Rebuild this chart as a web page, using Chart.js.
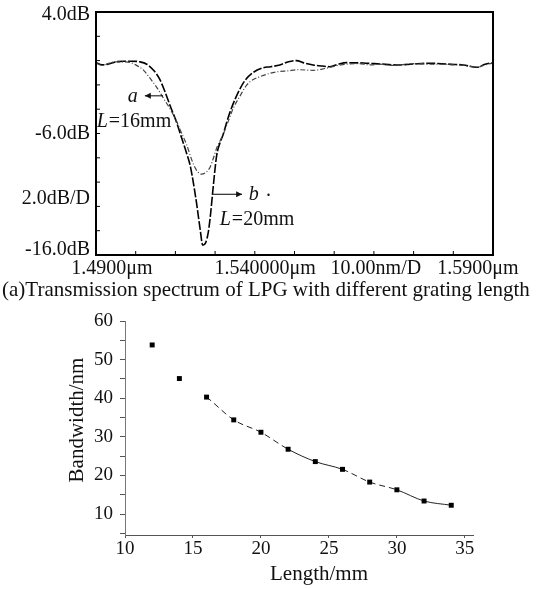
<!DOCTYPE html>
<html>
<head>
<meta charset="utf-8">
<script src="https://cdn.jsdelivr.net/npm/chart.js@4.4.1/dist/chart.umd.min.js"></script>
<style>
  body { margin: 0; background: #fff; width: 550px; height: 589px; position: relative; overflow: hidden; }
  #spectrumBox { position: absolute; left: 0; top: 0; width: 550px; height: 280px; }
  #bandBox { position: absolute; left: 0; top: 290px; width: 550px; height: 299px; }
  #caption { position: absolute; left: 2px; top: 277px; font: 21px 'Liberation Serif', 'Times New Roman', serif; color: #111; white-space: nowrap; }
</style>
</head>
<body>
<div id="spectrumBox"><canvas id="spectrum"></canvas></div>
<div id="caption">(a)Transmission spectrum of LPG with different grating length</div>
<div id="bandBox"><canvas id="band"></canvas></div>
<script>
const SERIF = "'Liberation Serif', 'Times New Roman', serif";

// (a) transmission spectra, wavelength in nm, loss in dB
const waveA = [1490, 1491.5, 1493, 1495, 1497, 1498.6, 1500, 1502, 1503.6, 1505.3, 1507, 1508.7, 1510.3, 1511.6, 1512.8, 1514.5, 1515.5, 1516.6, 1517.7, 1518.7, 1519.6, 1520.4, 1522, 1523.3, 1524.6, 1526.3, 1528, 1529.4, 1531.5, 1533.8, 1536, 1538.2, 1541, 1544.7, 1547, 1549, 1551, 1553, 1556, 1559, 1562, 1565, 1568, 1571, 1574, 1577, 1580, 1583, 1586, 1588, 1590];
const lossA = [-0.2, -0.4, -0.25, -0.1, -0.1, -0.15, -0.35, -0.8, -1.45, -2.2, -3.1, -4.0, -5.0, -6.0, -6.9, -8.5, -9.1, -9.35, -9.2, -8.8, -8.0, -7.2, -6.1, -5.0, -3.9, -2.9, -2.0, -1.6, -1.3, -1.05, -0.9, -0.85, -0.75, -0.8, -0.7, -0.55, -0.4, -0.3, -0.25, -0.35, -0.3, -0.4, -0.3, -0.25, -0.3, -0.3, -0.35, -0.4, -0.55, -0.35, -0.2];

const waveB = [1490, 1491.5, 1493, 1495, 1497, 1499, 1501, 1502.8, 1504.5, 1506, 1507.3, 1508.6, 1510.2, 1511.6, 1512.7, 1513.7, 1514.6, 1515.4, 1516.2, 1516.9, 1517.6, 1518.3, 1518.9, 1519.4, 1520.4, 1521.2, 1522, 1523, 1523.8, 1525, 1526.3, 1527.5, 1529.5, 1532, 1534, 1536.3, 1538.5, 1540.5, 1542.5, 1544.7, 1547, 1548.9, 1551, 1553.1, 1557.3, 1561.5, 1565.7, 1569.9, 1574.1, 1578.3, 1582.5, 1585.9, 1588, 1590];
const lossB = [-0.15, -0.35, -0.3, -0.1, -0.05, -0.05, -0.1, -0.3, -0.8, -1.5, -2.5, -3.65, -5.0, -6.4, -7.5, -8.6, -10.2, -11.9, -13.8, -15.2, -15.0, -14.1, -12.5, -10.8, -7.8, -6.8, -6.1, -5.0, -4.2, -3.2, -2.3, -1.65, -1.0, -0.6, -0.5, -0.36, -0.1, 0.0, -0.2, -0.36, -0.45, -0.5, -0.3, -0.17, -0.2, -0.28, -0.36, -0.28, -0.22, -0.28, -0.36, -0.55, -0.3, -0.17];

// instrument style labels round the frame
const levelLabels = ['4.0dB', '-6.0dB', '2.0dB/D', '-16.0dB'];
const levelAt = [3.75, -6, -11.4, -15.6];
const spanLabels = ['1.4900\u03bcm', '1.540000\u03bcm', '10.00nm/D', '1.5900\u03bcm'];
const spanAt = [1494, 1532.6, 1560.5, 1586.2];

// (b) 3dB bandwidth vs grating length
const lengthMm = [12, 14, 16, 18, 20, 22, 24, 26, 28, 30, 32, 34];
const bandwidthNm = [53.8, 45.1, 40.3, 34.4, 31.2, 26.8, 23.6, 21.6, 18.3, 16.3, 13.4, 12.3];

function pairs(xs, ys) {
  return xs.map((v, i) => ({ x: v, y: ys[i] }));
}

function line(ctx, x1, y1, x2, y2) {
  ctx.beginPath(); ctx.moveTo(x1, y1); ctx.lineTo(x2, y2); ctx.stroke();
}

function arrow(ctx, x1, y, x2) {
  // shaft from x1 to x2, head at x2
  line(ctx, x1, y, x2, y);
  const d = x2 > x1 ? -1 : 1;
  ctx.beginPath();
  ctx.moveTo(x2, y);
  ctx.lineTo(x2 + d * 6, y - 3);
  ctx.lineTo(x2 + d * 6, y + 3);
  ctx.closePath();
  ctx.fill();
}

const spectrumDecor = {
  id: 'spectrumDecor',
  afterDraw(chart) {
    const { ctx, chartArea: a, scales: { x, y } } = chart;
    ctx.save();
    ctx.strokeStyle = '#000';
    ctx.fillStyle = '#111';
    ctx.lineWidth = 2;
    ctx.strokeRect(a.left, a.top, a.right - a.left, a.bottom - a.top);

    // little inward ticks on left and bottom edges
    ctx.lineWidth = 1;
    for (let v = -14; v <= 2; v += 2) {
      const py = y.getPixelForValue(v);
      line(ctx, a.left, py, a.left + 4, py);
    }
    for (let v = 1500; v <= 1580; v += 10) {
      const px = x.getPixelForValue(v);
      line(ctx, px, a.bottom, px, a.bottom - 4);
    }

    ctx.font = '20px ' + SERIF;
    ctx.textBaseline = 'middle';
    ctx.textAlign = 'right';
    levelLabels.forEach((t, i) => ctx.fillText(t, a.left - 6, y.getPixelForValue(levelAt[i])));
    ctx.textAlign = 'center';
    spanLabels.forEach((t, i) => ctx.fillText(t, x.getPixelForValue(spanAt[i]), a.bottom + 14));

    // curve notes
    ctx.textAlign = 'left';
    ctx.font = 'italic 20px ' + SERIF;
    ctx.fillText('a', x.getPixelForValue(1498), y.getPixelForValue(-2.95));
    ctx.fillText('L', x.getPixelForValue(1490.2), y.getPixelForValue(-5.05));
    ctx.fillText('b', x.getPixelForValue(1528.5), y.getPixelForValue(-11.0));
    ctx.fillText('L', x.getPixelForValue(1521.2), y.getPixelForValue(-13.1));
    ctx.font = '20px ' + SERIF;
    ctx.fillText('=16mm', x.getPixelForValue(1490.2) + 12, y.getPixelForValue(-5.05));
    ctx.fillText('=20mm', x.getPixelForValue(1521.2) + 12, y.getPixelForValue(-13.1));
    ctx.fillText('.', x.getPixelForValue(1532.8), y.getPixelForValue(-10.7));
    arrow(ctx, x.getPixelForValue(1506.9), y.getPixelForValue(-2.9), x.getPixelForValue(1502.3));
    arrow(ctx, x.getPixelForValue(1519.5), y.getPixelForValue(-11.0), x.getPixelForValue(1526.8));
    ctx.restore();
  }
};

new Chart(document.getElementById('spectrum'), {
  type: 'line',
  data: {
    datasets: [
      {
        label: 'a L=16mm',
        data: pairs(waveA, lossA),
        borderColor: '#444',
        borderWidth: 1.2,
        borderDash: [5, 2, 1, 2],
        pointRadius: 0,
        cubicInterpolationMode: 'monotone'
      },
      {
        label: 'b L=20mm',
        data: pairs(waveB, lossB),
        borderColor: '#000',
        borderWidth: 1.6,
        borderDash: [9, 2],
        pointRadius: 0,
        cubicInterpolationMode: 'monotone'
      }
    ]
  },
  options: {
    responsive: true,
    maintainAspectRatio: false,
    animation: false,
    layout: { padding: { left: 96, right: 57, top: 12, bottom: 25 } },
    scales: {
      x: { type: 'linear', min: 1490, max: 1590, display: false },
      y: { min: -16, max: 4, display: false }
    },
    plugins: { legend: { display: false }, tooltip: { enabled: false } }
  },
  plugins: [spectrumDecor]
});

// axis titles for (b), drawn where the print has them
const bandTitles = {
  id: 'bandTitles',
  afterDraw(chart) {
    const { ctx } = chart;
    ctx.save();
    ctx.fillStyle = '#111';
    ctx.font = '21px ' + SERIF;
    ctx.textAlign = 'center';
    ctx.textBaseline = 'middle';
    ctx.fillText('Length/mm', 319, 284);
    ctx.translate(77, 130);
    ctx.rotate(-Math.PI / 2);
    ctx.fillText('Bandwidth/nm', 0, 0);
    ctx.restore();
  }
};

// the printed fit line is only partly visible
const hiddenSeg = [0, 1];
const dashedSeg = [2, 3, 4, 7, 8];

new Chart(document.getElementById('band'), {
  type: 'line',
  data: {
    datasets: [{
      label: 'Bandwidth',
      data: pairs(lengthMm, bandwidthNm),
      borderColor: '#222',
      borderWidth: 1,
      pointStyle: 'rect',
      pointRadius: 3.5,
      pointBackgroundColor: '#000',
      pointBorderWidth: 0,
      cubicInterpolationMode: 'monotone',
      segment: {
        borderColor: c => hiddenSeg.includes(c.p0DataIndex) ? 'rgba(0,0,0,0)' : undefined,
        borderDash: c => dashedSeg.includes(c.p0DataIndex) ? [6, 4] : undefined
      }
    }]
  },
  options: {
    responsive: true,
    maintainAspectRatio: false,
    animation: false,
    layout: { padding: { left: 0, right: 77, top: 31, bottom: 0 } },
    scales: {
      x: {
        type: 'linear',
        min: 10,
        max: 35.6,
        ticks: { stepSize: 5, includeBounds: false, color: '#111', font: { family: SERIF, size: 19 }, padding: 0 },
        grid: { drawOnChartArea: false, tickLength: 3, color: '#555' },
        border: { color: '#555', width: 1 },
        afterFit: s => { s.height = 54; }
      },
      y: {
        min: 4.6,
        max: 60,
        ticks: {
          stepSize: 5,
          includeBounds: false,
          autoSkip: false,
          color: '#111',
          font: { family: SERIF, size: 19 },
          padding: 7,
          callback: v => (v % 10 === 0 ? String(v) : '')
        },
        grid: { drawOnChartArea: false, tickLength: 5, color: '#555' },
        border: { color: '#777', width: 1, dash: [1, 3] },
        afterFit: s => { s.width = 125; }
      }
    },
    plugins: { legend: { display: false }, tooltip: { enabled: false } }
  },
  plugins: [bandTitles]
});
</script>
</body>
</html>
